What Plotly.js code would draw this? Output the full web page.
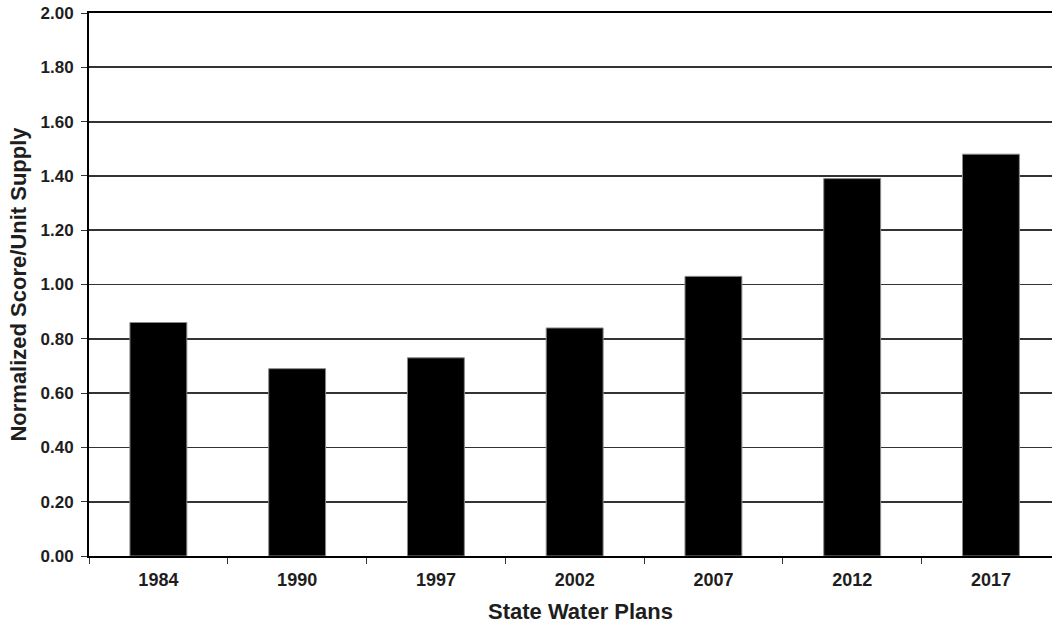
<!DOCTYPE html>
<html>
<head>
<meta charset="utf-8">
<script src="https://cdn.plot.ly/plotly-3.0.1.min.js"></script>
<style>
html,body{margin:0;padding:0;background:#fff;overflow:hidden;}
#chart{width:1052px;height:633px;}
</style>
</head>
<body>
<div id="chart"></div>
<script>
var planYears = ["1984", "1990", "1997", "2002", "2007", "2012", "2017"];
var normalizedScores = [0.86, 0.69, 0.73, 0.84, 1.03, 1.39, 1.48];
var yTickValues = [0, 0.2, 0.4, 0.6, 0.8, 1.0, 1.2, 1.4, 1.6, 1.8, 2.0];
var xTitleText = "State Water Plans";
var yTitleText = "Normalized Score/Unit Supply";

var fontFam = "'Liberation Sans', Arial, Helvetica, sans-serif";
var txtColor = "#1e1e1e";

var trace = {
  type: "bar",
  x: planYears,
  y: normalizedScores,
  marker: {color: "#000000", line: {color: "#8a8a8a", width: 1}},
  hoverinfo: "x+y"
};

var layout = {
  width: 1052,
  height: 633,
  margin: {l: 89, r: 0, t: 13, b: 77, pad: 0},
  paper_bgcolor: "#ffffff",
  plot_bgcolor: "#ffffff",
  showlegend: false,
  bargap: 0.59,
  font: {family: fontFam, color: txtColor, size: 18},
  xaxis: {
    type: "category",
    range: [-0.5, 6.44],
    showgrid: false,
    showline: true,
    linecolor: "#000000",
    linewidth: 2,
    mirror: true,
    ticks: "outside",
    tickson: "boundaries",
    ticklen: 6,
    tickwidth: 1,
    tickcolor: "#333333",
    tickfont: {family: fontFam, size: 18, weight: "bold", color: txtColor},
    ticklabelstandoff: 6,
    zeroline: false,
    fixedrange: true
  },
  yaxis: {
    range: [0, 2],
    tickmode: "array",
    tickvals: yTickValues,
    tickformat: ".2f",
    showgrid: true,
    gridcolor: "#333333",
    gridwidth: 1.8,
    showline: true,
    linecolor: "#000000",
    linewidth: 2,
    ticks: "outside",
    ticklen: 6,
    tickwidth: 1,
    tickcolor: "#333333",
    tickfont: {family: fontFam, size: 17, weight: "bold", color: txtColor},
    ticklabelstandoff: 4,
    zeroline: false,
    automargin: false,
    title: {
      text: yTitleText,
      font: {family: fontFam, size: 22, weight: "bold", color: txtColor},
      standoff: 8
    },
    fixedrange: true
  },
  annotations: [{
    text: xTitleText,
    xref: "paper", yref: "paper",
    x: 0.51, y: 0,
    yshift: -55,
    xanchor: "center", yanchor: "middle",
    showarrow: false,
    font: {family: fontFam, size: 22, weight: "bold", color: txtColor}
  }]
};

Plotly.newPlot("chart", [trace], layout, {displayModeBar: false, staticPlot: true});
</script>
</body>
</html>
